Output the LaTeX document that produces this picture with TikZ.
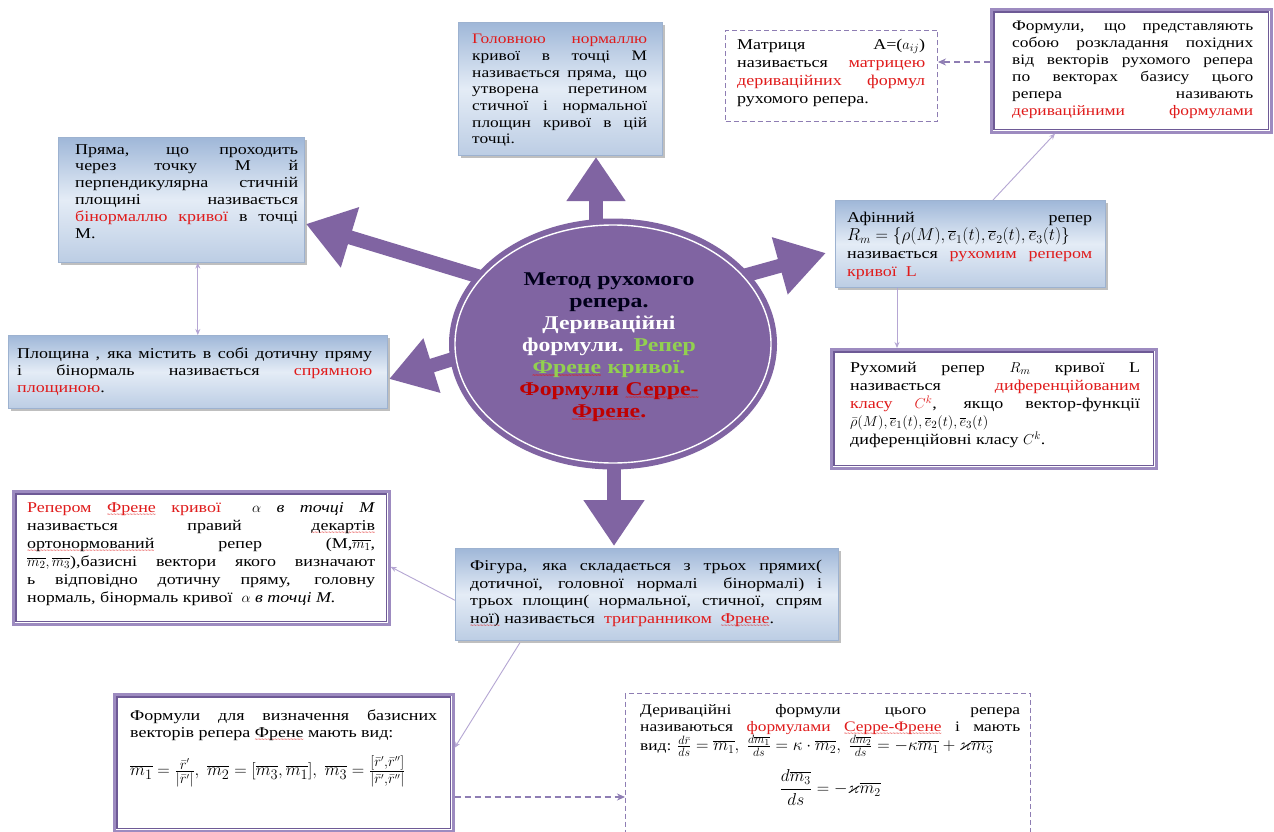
\documentclass[tikz,border=0pt]{standalone}
\usepackage{fontspec}
\setmainfont{Liberation Serif}
\newfontfamily\widefont{Liberation Serif}[FakeStretch=1.2]
\newfontfamily\boldwide{Liberation Serif}[FakeStretch=1.22,UprightFont=* Bold]
\usepackage{amsmath,amssymb}
\usetikzlibrary{arrows.meta,shapes.geometric,shadows,calc}
\pgfdeclarelayer{bg}
\pgfsetlayers{bg,main}
\setlength{\parindent}{0pt}
\definecolor{wpurple}{HTML}{8064A2}
\definecolor{wred}{HTML}{E01B1B}
\definecolor{dred}{HTML}{C00000}
\definecolor{wgreen}{HTML}{92D050}
\definecolor{bluetop}{HTML}{9FB7D8}
\definecolor{bluemid}{HTML}{E4ECF6}
\definecolor{bluebot}{HTML}{BCCDE4}
\definecolor{blueedge}{HTML}{9DB2D0}
\definecolor{dblout}{HTML}{9D8BC0}
\definecolor{dblin}{HTML}{6E5A96}
\definecolor{connc}{HTML}{B5A6D3}
\definecolor{dashc}{HTML}{8E7DB3}
\newlength\bw
\newcommand\setbw[1]{\global\bw=#1\relax}
\newcommand\rt[1]{\textcolor{wred}{#1}}
\newcommand\jx[1]{{\spaceskip=0.25em plus 20em minus 0.05em\makebox[\bw][s]{#1}}}
\newcommand\jl[1]{\jx{#1}\\}
\newcommand\sqw[1]{\setbox0=\hbox{#1}\leavevmode\rlap{\raisebox{-7pt}[0pt][0pt]{\textcolor{wred}{\hbox to \wd0{\xleaders\hbox{\fontsize{8}{8}\selectfont\char"02DC}\hfill}}}}\box0\relax}
\tikzset{
  bluebox/.style={draw=blueedge, line width=0.6pt, top color=bluetop, bottom color=bluebot, middle color=bluemid,
    drop shadow={shadow xshift=3pt, shadow yshift=-3pt, fill=black!50, opacity=0.5}, anchor=north west, inner sep=0pt},
  dblbox/.style={draw=dblout, line width=2.6pt, fill=white, anchor=north west, inner sep=0pt},
  dblinner/.style={draw=dblin, line width=1.2pt},
  dashbox/.style={draw=dashc, line width=1pt, dash pattern=on 5pt off 3pt, fill=white, anchor=north west, inner sep=0pt},
  txt/.style={anchor=north west, inner sep=0pt, align=left, text=black},
  bigar/.style={draw=wpurple, line width=14pt},
  conn/.style={draw=connc, line width=0.9pt},
  dconn/.style={draw=dashc, line width=1.2pt, dash pattern=on 6pt off 4pt, -{Stealth[length=8pt,width=7pt]}},
}
\begin{document}
\begin{tikzpicture}[x=1pt,y=-1pt]
\useasboundingbox (0,0) rectangle (1274,832);
\begin{pgfonlayer}{bg}
\fill[white] (0,0) rectangle (1274,832);
\end{pgfonlayer}

% central ellipse
\node[ellipse, fill=wpurple, inner sep=0pt, minimum width=328pt, minimum height=251pt] (ell) at (613,344) {};
\draw[white, line width=1.4pt] (ell.center) ellipse [x radius=158, y radius=119];
\node[font=\boldwide\fontsize{19.5}{22}\selectfont, align=center, text width=210pt, inner sep=0pt] (ct) at (609,347)
 {\textcolor{black!90!blue}{Метод рухомого}\\ \textcolor{black!90!blue}{репера.}\\ \textcolor{white}{Дериваційні}\\
  \textcolor{white}{формули.} \textcolor{wgreen}{Репер}\\ \textcolor{wgreen}{\sqw{Френе} кривої.}\\
  \textcolor{dred}{Формули \sqw{Серре-}}\\ \textcolor{dred}{\sqw{Френе}.}};

% tips of the big arrows
\coordinate (tUp) at (596,157);
\coordinate (tDown) at (614,546);
\coordinate (tUL) at (306,224);
\coordinate (tL) at (389,379);
\coordinate (tR) at (826,253);
\begin{pgfonlayer}{bg}
\draw[bigar, -{Triangle[length=44pt,width=56pt]}] (ell.center -| tUp) -- (tUp);
\draw[bigar, -{Triangle[length=46pt,width=58pt]}] (ell.center -| tDown) -- (tDown);
\draw[bigar, -{Triangle[length=46pt,width=60pt]}] ($(ell.center)+(-93,-55)$) -- (tUL);
\draw[bigar, -{Triangle[length=45pt,width=54pt]}] ($(ell.center)+(-109,-1)$) -- (tL);
\draw[bigar, -{Triangle[length=48pt,width=56pt]}] ($(ell.center)+(87,-56)$) -- (tR);
\end{pgfonlayer}

% blue boxes
\node[bluebox, minimum width=204pt, minimum height=133pt] (A) at (458,22) {};
\node[txt, font=\widefont\fontsize{14.5}{16.7}\selectfont] (At) at (472,34) {\setbw{175pt}%
\jl{\rt{Головною нормаллю}}
\jl{кривої в точці М}
\jl{називається пряма, що}
\jl{утворена перетином}
\jl{стичної і нормальної}
\jl{площин кривої в цій}
точці.};

\node[bluebox, minimum width=246pt, minimum height=125pt] (B) at (58,137) {};
\node[txt, font=\widefont\fontsize{15}{16.8}\selectfont] (Bt) at (75,144) {\setbw{223pt}%
\jl{Пряма, що проходить}
\jl{через точку М й}
\jl{перпендикулярна стичній}
\jl{площині називається}
\jl{\rt{бінормаллю кривої} в точці}
М.};

\node[bluebox, minimum width=379pt, minimum height=73pt] (C) at (8,335) {};
\node[txt, font=\widefont\fontsize{15}{17}\selectfont] (Ct) at (17,348) {\setbw{355pt}%
\jl{Площина , яка містить в собі дотичну пряму}
\jl{і бінормаль називається \rt{спрямною}}
\rt{площиною}.};

\node[bluebox, minimum width=270pt, minimum height=87pt] (D) at (835,200) {};
\node[txt, font=\widefont\fontsize{15}{18}\selectfont] (Dt) at (847,212) {\setbw{245pt}%
\jl{Афінний репер}
{\fontsize{16.5}{18}\selectfont$R_m=\{\rho(M),\overline{e}_1(t),\overline{e}_2(t),\overline{e}_3(t)\}$}\\
\jl{називається \rt{рухомим репером}}
\rt{кривої \ L}};

\node[bluebox, minimum width=383pt, minimum height=92pt] (I) at (455,548) {};
\node[txt, font=\widefont\fontsize{15}{17.5}\selectfont] (It) at (470,560) {\setbw{352pt}%
\jl{Фігура, яка складається з трьох прямих(}
\jl{дотичної, головної нормалі \ бінормалі) і}
\jl{трьох площин( нормальної, стичної, спрям}
\sqw{ної)} називається \ \rt{тригранником \ \sqw{Френе}}.};

% double bordered boxes
\node[dblbox, minimum width=325pt, minimum height=119pt] (E) at (830,348) {};
\draw[dblinner] ($(E.north west)+(4,4)$) rectangle ($(E.south east)+(-4,-4)$);
\node[txt, font=\widefont\fontsize{15}{18}\selectfont] (Et) at (850,362) {\setbw{290pt}%
\jl{Рухомий репер $R_m$ кривої L}
\jl{називається \rt{диференційованим}}
\jl{\rt{класу $C^k$}, якщо вектор-функції}
$\bar\rho(M),\overline{e}_1(t),\overline{e}_2(t),\overline{e}_3(t)$\\
диференційовні класу $C^k$.};

\node[dblbox, minimum width=280pt, minimum height=123pt] (F) at (990,8) {};
\draw[dblinner] ($(F.north west)+(4,4)$) rectangle ($(F.south east)+(-4,-4)$);
\node[txt, font=\widefont\fontsize{14.5}{17}\selectfont] (Ft) at (1012,21) {\setbw{241pt}%
\jl{Формули, що представляють}
\jl{собою розкладання похідних}
\jl{від векторів рухомого репера}
\jl{по векторах базису цього}
\jl{репера називають}
\jx{\rt{дериваційними формулами}}};

\node[dblbox, minimum width=376pt, minimum height=133pt] (H) at (12,490) {};
\draw[dblinner] ($(H.north west)+(4,4)$) rectangle ($(H.south east)+(-4,-4)$);
\node[txt, font=\widefont\fontsize{15}{18}\selectfont] (Ht) at (27,502) {\setbw{348pt}%
\jl{\rt{Репером \sqw{Френе} кривої} \ $\alpha$ \textit{в точці М}}
\jl{називається правий \sqw{декартів}}
\jl{\sqw{ортонормований} репер (M,$\overline{m_1}$,}
\jl{$\overline{m_2},\overline{m_3}$),базисні вектори якого визначают}
\jl{ь відповідно дотичну пряму, головну}
нормаль, бінормаль кривої \ $\alpha$ \textit{в точці М.}};

\node[dblbox, minimum width=339pt, minimum height=137pt] (J) at (113,693) {};
\draw[dblinner] ($(J.north west)+(4,4)$) rectangle ($(J.south east)+(-4,-4)$);
\node[txt, font=\widefont\fontsize{15}{17}\selectfont] (Jt) at (130,710) {\setbw{307pt}%
\jl{Формули для визначення базисних}
векторів репера \sqw{Френе} мають вид:\\[14pt]
\fontsize{19}{20}\selectfont$\overline{m_1}=\frac{\bar r'}{|\bar r'|},\;\overline{m_2}=[\overline{m_3},\overline{m_1}],\;\overline{m_3}=\frac{[\bar r',\bar r'']}{|\bar r',\bar r''|}$};

% dashed boxes
\node[dashbox, minimum width=212pt, minimum height=91pt] (G) at (725,30) {};
\node[txt, font=\widefont\fontsize{15}{18}\selectfont] (Gt) at (737,39) {\setbw{188pt}%
\jl{Матриця A=($a_{ij}$)}
\jl{називається \rt{матрицею}}
\jl{\rt{дериваційних формул}}
рухомого репера.};

\node[dashbox, minimum width=405pt, minimum height=150pt] (K) at (625,693) {};
\node[txt, font=\widefont\fontsize{14.5}{17}\selectfont] (Kt) at (640,704) {\setbw{380pt}%
\jl{Дериваційні формули цього репера}
\jl{називаються \rt{формулами \sqw{Серре-Френе}} і мають}
вид: {\fontsize{17.5}{19}\selectfont$\frac{d\bar r}{ds}=\overline{m_1},\;\frac{d\overline{m_1}}{ds}=\kappa\cdot\overline{m_2},\;\frac{d\overline{m_2}}{ds}=-\kappa\overline{m_1}+\varkappa\overline{m_3}$}\\[12pt]
\makebox[\bw][c]{\fontsize{17}{19}\selectfont$\displaystyle\frac{d\overline{m_3}}{ds}=-\varkappa\overline{m_2}$}};

% thin connectors
\draw[conn, {Stealth[length=6pt,width=5pt]}-{Stealth[length=6pt,width=5pt]}] (B.south -| C.north) -- (C.north);
\coordinate (de) at ($(D.south west)+(62,0)$);
\draw[conn, -{Stealth[length=6pt,width=5pt]}] (de) -- (de |- E.north);
\draw[conn, -{Stealth[length=6pt,width=5pt]}] ($(D.north west)+(158,0)$) -- ($(F.south west)+(65,0)$);
\draw[conn, -{Stealth[length=6pt,width=5pt]}] ($(I.west)+(0,6)$) -- ($(H.east)+(0,9)$);
\draw[conn, -{Stealth[length=6pt,width=5pt]}] ($(I.south west)+(65,2)$) -- ($(J.east)+(0,-15)$);
\coordinate (fg) at (0,62);
\draw[dconn] (F.west |- fg) -- (G.east |- fg);
\coordinate (jk) at (0,797);
\draw[dconn] (J.east |- jk) -- (K.west |- jk);
\end{tikzpicture}
\end{document}
